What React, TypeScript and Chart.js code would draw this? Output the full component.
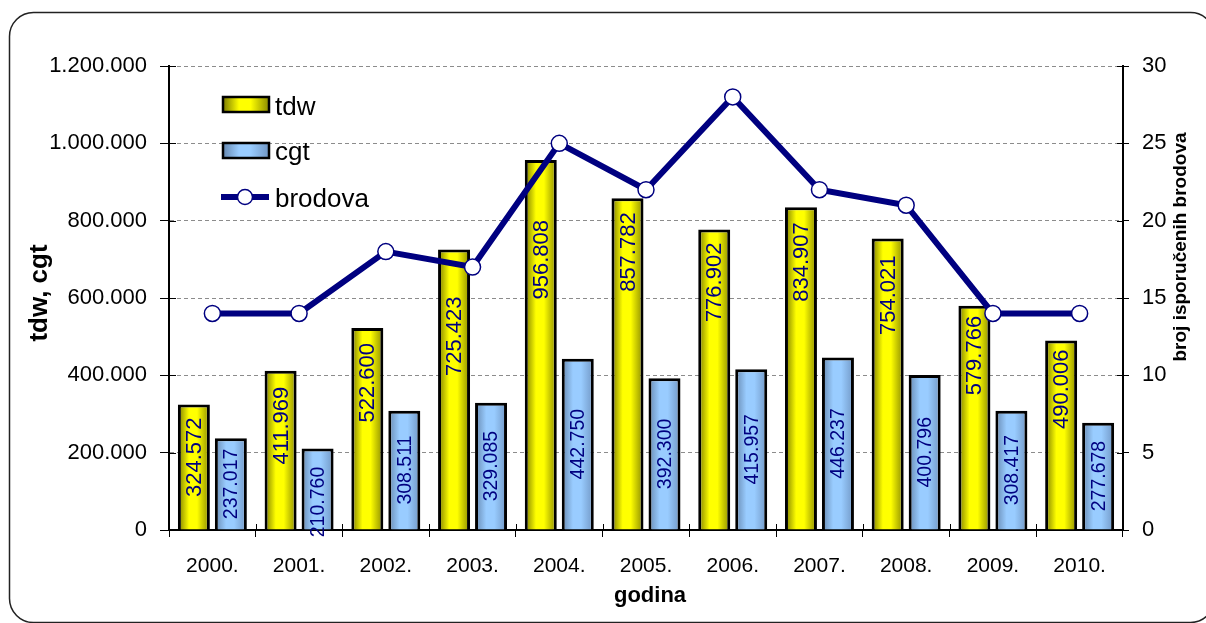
import React, { useEffect, useRef } from 'react';
import { Chart, registerables } from 'chart.js';
Chart.register(...registerables);

const years = ['2000.', '2001.', '2002.', '2003.', '2004.', '2005.', '2006.', '2007.', '2008.', '2009.', '2010.'];
const tdw = [324572, 411969, 522600, 725423, 956808, 857782, 776902, 834907, 754021, 579766, 490006];
const cgt = [237017, 210760, 308511, 329085, 442750, 392300, 415957, 446237, 400796, 308417, 277678];
const brodova = [14, 14, 18, 17, 25, 22, 28, 22, 21, 14, 14];
const leftMax = 1200000;
const leftStep = 200000;
const rightMax = 30;
const rightStep = 5;
const xTitle = 'godina';
const leftTitle = 'tdw, cgt';
const rightTitle = 'broj isporučenih brodova';
const seriesNames = ['tdw', 'cgt', 'brodova'];

// label placement tweaks (px): gap from bar top for tdw labels, extra shift for cgt labels
const tdwLabelGap = [13, 16, 15, 47, 60, 14, 13, 15, 17, 10, 9];
const cgtLabelShift = [0, 13, 0, 0, 0, 0, 0, 0, 0, 0, 0];

const FONT = '"Liberation Sans", Arial, Helvetica, sans-serif';
const NAVY = '#000080';

function fmt(n: number): string {
  return String(Math.round(n)).replace(/\B(?=(\d{3})+(?!\d))/g, '.');
}

function barGradient(ctx: CanvasRenderingContext2D, x0: number, x1: number, kind: 'y' | 'b') {
  const g = ctx.createLinearGradient(x0, 0, x1, 0);
  if (kind === 'y') {
    g.addColorStop(0, '#7a7a00');
    g.addColorStop(0.35, '#ffff00');
    g.addColorStop(0.6, '#ffff00');
    g.addColorStop(1, '#8a8a00');
  } else {
    g.addColorStop(0, '#6688b0');
    g.addColorStop(0.35, '#99ccff');
    g.addColorStop(0.6, '#99ccff');
    g.addColorStop(1, '#7096c4');
  }
  return g;
}

const decor = {
  id: 'decor',
  beforeDraw(chart: any) {
    const c: CanvasRenderingContext2D = chart.ctx;
    c.save();
    c.fillStyle = '#ffffff';
    c.fillRect(0, 0, chart.width, chart.height);
    c.beginPath();
    c.roundRect(9.5, 12.5, 1205, 610, 24);
    c.lineWidth = 1.5;
    c.strokeStyle = '#222';
    c.stroke();
    c.restore();
  },
  beforeDatasetsDraw(chart: any) {
    const c: CanvasRenderingContext2D = chart.ctx;
    [0, 1].forEach((di) => {
      const meta = chart.getDatasetMeta(di);
      meta.data.forEach((el: any) => {
        const w = el.width;
        el.options.backgroundColor = barGradient(c, el.x - w / 2, el.x + w / 2, di === 0 ? 'y' : 'b');
      });
    });
  },
  afterDatasetsDraw(chart: any) {
    const c: CanvasRenderingContext2D = chart.ctx;
    c.save();
    c.fillStyle = NAVY;
    const m0 = chart.getDatasetMeta(0);
    c.font = `22px ${FONT}`;
    m0.data.forEach((el: any, i: number) => {
      c.save();
      c.translate(el.x + 1, el.y + tdwLabelGap[i]);
      c.rotate(-Math.PI / 2);
      c.textAlign = 'right';
      c.textBaseline = 'middle';
      c.fillText(fmt(tdw[i]), 0, 0);
      c.restore();
    });
    const m1 = chart.getDatasetMeta(1);
    c.font = `19.5px ${FONT}`;
    m1.data.forEach((el: any, i: number) => {
      c.save();
      c.translate(el.x + 1, (el.y + el.base) / 2 + cgtLabelShift[i]);
      c.rotate(-Math.PI / 2);
      c.textAlign = 'center';
      c.textBaseline = 'middle';
      c.fillText(fmt(cgt[i]), 0, 0);
      c.restore();
    });
    c.restore();
  },
  afterDraw(chart: any) {
    const c: CanvasRenderingContext2D = chart.ctx;
    const area = chart.chartArea;
    c.save();
    // inner halves of the cross tick marks
    c.strokeStyle = '#000';
    c.lineWidth = 1;
    const xs = chart.scales.x;
    for (let i = 0; i <= years.length; i++) {
      const px = Math.round(xs.getPixelForValue(i - 0.5)) + 0.5;
      c.beginPath();
      c.moveTo(px, area.bottom);
      c.lineTo(px, area.bottom - 6);
      c.stroke();
    }
    const ys = chart.scales.y;
    for (let v = 0; v <= leftMax; v += leftStep) {
      const py = Math.round(ys.getPixelForValue(v)) + 0.5;
      c.beginPath();
      c.moveTo(area.left, py);
      c.lineTo(area.left + 7, py);
      c.stroke();
    }
    const ys1 = chart.scales.y1;
    for (let v = 0; v <= rightMax; v += rightStep) {
      const py = Math.round(ys1.getPixelForValue(v)) + 0.5;
      c.beginPath();
      c.moveTo(area.right, py);
      c.lineTo(area.right - 6, py);
      c.stroke();
    }
    // legend
    c.lineWidth = 2.5;
    c.strokeStyle = '#000';
    c.fillStyle = barGradient(c, 223, 269, 'y');
    c.fillRect(223, 97, 46, 15);
    c.strokeRect(223, 97, 46, 15);
    c.fillStyle = barGradient(c, 223, 269, 'b');
    c.fillRect(223, 143, 46, 15);
    c.strokeRect(223, 143, 46, 15);
    c.beginPath();
    c.moveTo(221, 197);
    c.lineTo(269, 197);
    c.lineWidth = 6;
    c.strokeStyle = NAVY;
    c.stroke();
    c.beginPath();
    c.arc(245, 197, 7.5, 0, Math.PI * 2);
    c.fillStyle = '#fff';
    c.fill();
    c.lineWidth = 1.5;
    c.stroke();
    c.fillStyle = '#000';
    c.font = `26px ${FONT}`;
    c.textAlign = 'left';
    c.textBaseline = 'alphabetic';
    c.fillText(seriesNames[0], 275, 115);
    c.fillText(seriesNames[1], 275, 160);
    c.fillText(seriesNames[2], 275, 207);
    // titles
    c.textAlign = 'center';
    c.textBaseline = 'middle';
    c.font = `bold 26px ${FONT}`;
    c.save();
    c.translate(40, 293);
    c.rotate(-Math.PI / 2);
    c.fillText(leftTitle, 0, 0);
    c.restore();
    c.font = `bold 19px ${FONT}`;
    c.save();
    c.translate(1181, 247);
    c.rotate(-Math.PI / 2);
    c.fillText(rightTitle, 0, 0);
    c.restore();
    c.font = `bold 22px ${FONT}`;
    c.fillText(xTitle, 650, 596);
    c.restore();
  },
};

export default function App() {
  const ref = useRef<HTMLCanvasElement>(null);
  useEffect(() => {
    const chart = new Chart(ref.current!, {
      type: 'bar',
      data: {
        labels: years,
        datasets: [
          {
            type: 'bar',
            label: seriesNames[0],
            data: tdw,
            yAxisID: 'y',
            backgroundColor: () => '#ffff00',
            borderColor: '#000',
            borderWidth: 3,
            categoryPercentage: 0.853,
            barPercentage: 0.865,
            order: 2,
          },
          {
            type: 'bar',
            label: seriesNames[1],
            data: cgt,
            yAxisID: 'y',
            backgroundColor: () => '#99ccff',
            borderColor: '#000',
            borderWidth: 3,
            categoryPercentage: 0.853,
            barPercentage: 0.865,
            order: 2,
          },
          {
            type: 'line',
            label: seriesNames[2],
            data: brodova,
            yAxisID: 'y1',
            borderColor: NAVY,
            borderWidth: 6,
            pointRadius: 8,
            pointBorderWidth: 1.5,
            pointBackgroundColor: '#fff',
            pointBorderColor: NAVY,
            tension: 0,
            order: 1,
          } as any,
        ],
      },
      options: {
        animation: false,
        responsive: true,
        maintainAspectRatio: false,
        devicePixelRatio: 1,
        layout: { padding: { top: 66, left: 0, right: 0, bottom: 0 } },
        plugins: { legend: { display: false }, tooltip: { enabled: false } },
        scales: {
          x: {
            offset: true,
            grid: { display: true, drawOnChartArea: false, drawTicks: true, tickLength: 7, tickColor: '#000', offset: true },
            border: { color: '#000', width: 2 },
            ticks: { font: { family: FONT, size: 21 }, color: '#000', padding: 17, maxRotation: 0 },
            afterFit: (s: any) => { s.height = 93; },
          },
          y: {
            position: 'left',
            min: 0,
            max: leftMax,
            ticks: { stepSize: leftStep, font: { family: FONT, size: 22 }, color: '#000', padding: 13, callback: (v: any) => fmt(Number(v)) },
            grid: {
              color: (ctx: any) => (ctx.tick && ctx.tick.value === 0 ? 'rgba(0,0,0,0)' : '#8c8c8c'),
              tickColor: '#000',
              tickLength: 9,
              lineWidth: 1,
              borderDash: [4, 3],
            } as any,
            border: { color: '#000', width: 2, dash: [4, 3] },
            afterFit: (s: any) => { s.width = 169; },
          },
          y1: {
            position: 'right',
            min: 0,
            max: rightMax,
            ticks: { stepSize: rightStep, font: { family: FONT, size: 22 }, color: '#000', padding: 13 },
            grid: { drawOnChartArea: false, tickColor: '#000', tickLength: 6 },
            border: { color: '#000', width: 2 },
            afterFit: (s: any) => { s.width = 83; },
          },
        },
      } as any,
      plugins: [decor],
    });
    return () => chart.destroy();
  }, []);
  return (
    <div style={{ position: 'fixed', left: 0, top: 0, width: 1206, height: 623, background: '#fff' }}>
      <canvas ref={ref} />
    </div>
  );
}
